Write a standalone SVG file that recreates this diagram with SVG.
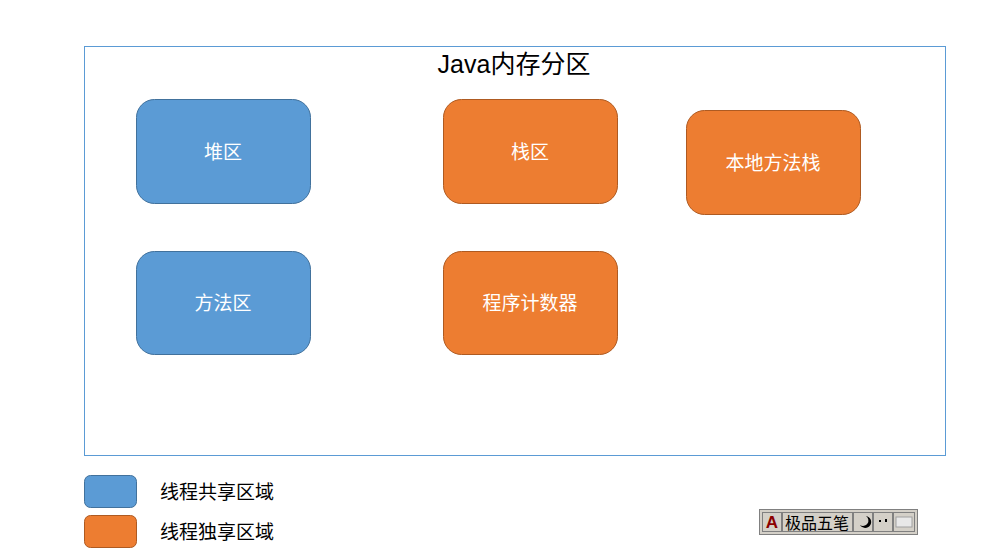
<svg xmlns="http://www.w3.org/2000/svg" width="984" height="558" viewBox="0 0 984 558">
<style>
.t{font-family:"Liberation Sans","Noto Sans CJK SC",sans-serif;font-size:19px;fill:#fff;text-anchor:middle;dominant-baseline:central}
.b{fill:#5b9bd5;stroke:#41719c;stroke-width:1}
.o{fill:#ed7d31;stroke:#ae5a21;stroke-width:1}
.l{font-family:"Liberation Sans","Noto Sans CJK SC",sans-serif;font-size:19px;fill:#000;dominant-baseline:central}
.btn{fill:#d4d0c8;stroke:#808080;stroke-width:1}
</style>
<rect width="984" height="558" fill="#fff"/>
<g id="frame"><rect x="84.5" y="46.5" width="861" height="409" fill="none" stroke="#5b9bd5"/>
<text x="514" y="64" class="l" style="font-size:25px" text-anchor="middle">Java内存分区</text></g>
<g id="heap"><rect class="b" x="136.5" y="99.5" width="174" height="104" rx="18"/><text class="t" x="223" y="152">堆区</text></g>
<g id="stack"><rect class="o" x="443.5" y="99.5" width="174" height="104" rx="18"/><text class="t" x="530" y="152">栈区</text></g>
<g id="native"><rect class="o" x="686.5" y="110.5" width="174" height="104" rx="18"/><text class="t" x="773" y="163">本地方法栈</text></g>
<g id="method"><rect class="b" x="136.5" y="251.5" width="174" height="103" rx="18"/><text class="t" x="223" y="303">方法区</text></g>
<g id="pc"><rect class="o" x="443.5" y="251.5" width="174" height="103" rx="18"/><text class="t" x="530" y="303">程序计数器</text></g>
<g id="legend1"><rect class="b" x="84.5" y="475.5" width="52" height="32" rx="6"/><text class="l" x="160" y="492">线程共享区域</text></g>
<g id="legend2"><rect class="o" x="84.5" y="515.5" width="52" height="32" rx="6"/><text class="l" x="160" y="532">线程独享区域</text></g>
<g id="ime">
<rect x="759.5" y="509.5" width="158" height="25" fill="#d4d0c8" stroke="#808080"/>
<rect class="btn" x="762.5" y="512.5" width="19" height="19"/>
<text x="772" y="522" style="font-family:'Liberation Sans',sans-serif;font-size:17px;font-weight:bold;fill:#8b0000;text-anchor:middle;dominant-baseline:central">A</text>
<rect class="btn" x="782.5" y="512.5" width="70" height="19"/>
<text x="817" y="522" style="font-family:'Noto Sans CJK SC',sans-serif;font-size:16px;fill:#000;text-anchor:middle;dominant-baseline:central">极品五笔</text>
<rect class="btn" x="853.5" y="512.5" width="19" height="19"/>
<path d="M866 516 a6 6 0 1 1 -6 9 a5 5 0 0 0 6 -9z" fill="#000"/>
<rect class="btn" x="873.5" y="512.5" width="19" height="19"/>
<rect x="879" y="520" width="2" height="2" fill="#000"/><rect x="885" y="519" width="2" height="3" fill="#000"/>
<rect class="btn" x="893.5" y="512.5" width="21" height="19"/>
<rect x="896" y="517" width="16" height="10" fill="#e8e8e8" stroke="#a0a0a0"/>
</g>
</svg>
